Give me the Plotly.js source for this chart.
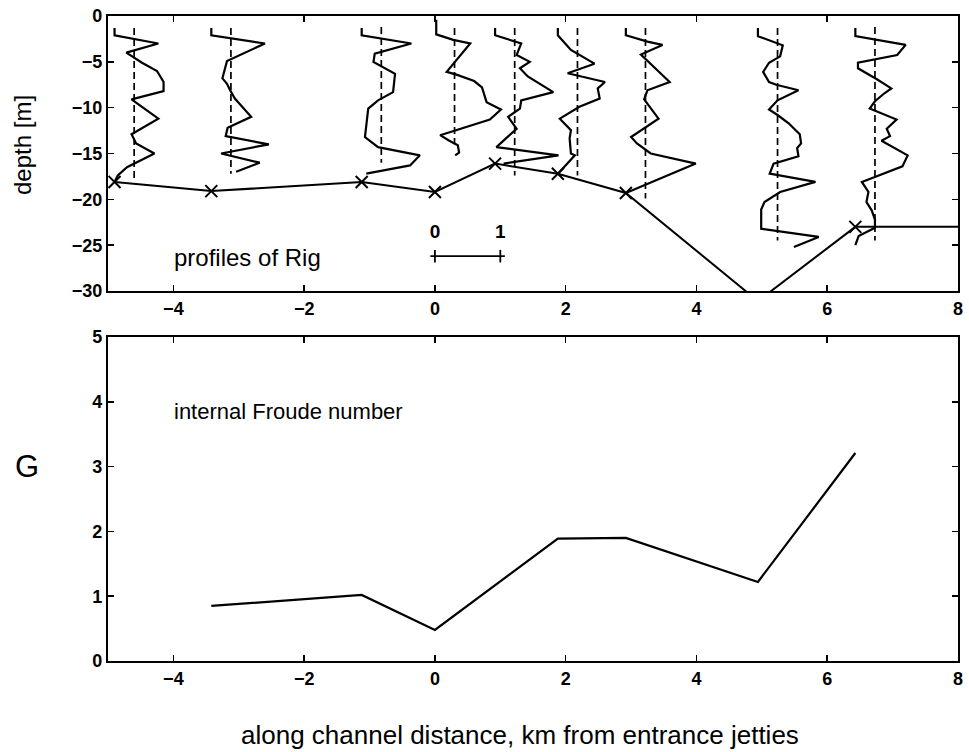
<!DOCTYPE html>
<html>
<head>
<meta charset="utf-8">
<script src="https://cdn.plot.ly/plotly-3.0.1.min.js"></script>
<style>
  html, body { margin: 0; padding: 0; background: #fff; }
  #chart { width: 969px; height: 752px; }
</style>
</head>
<body>
<div id="chart"></div>
<script>
// ---------- DATA ----------
// Station positions along channel (km) and channel bottom depth (m)
const bottomX = [-4.9, -3.42, -1.12, 0, 0.92, 1.88, 2.92, 4.94, 6.43, 8];
const bottomZ = [-18.1, -19.1, -18.1, -19.2, -16.1, -17.2, -19.3, -31.1, -23.0, -23.0];
const markedStations = 9; // stations carrying an "x" marker (the last point is the channel edge)

// Profile origins (km) – one Rig profile per station
const profileStation = [-4.9, -3.42, -1.12, 0, 0.92, 1.88, 2.92, 4.94, 6.43];

// Rig profiles: depth (m) and Rig value (scale: 1 Rig unit = 1 km on the plot)
const prof1Depth = [-1.3, -2.1, -3.0, -4.0, -5.1, -6.0, -7.2, -8.2, -9.1, -11.2, -12.9, -13.9, -15.0, -16.5, -17.4, -18.1];
const prof1Rig   = [0, 0, 0.67, 0.18, 0.42, 0.65, 0.75, 0.75, 0.26, 0.67, 0.26, 0.33, 0.61, 0.19, 0.05, 0];
const prof2Depth = [-1.3, -2.1, -3.0, -4.9, -6.8, -7.4, -8.0, -9.0, -11.0, -12.2, -13.1, -14.0, -15.0, -16.0, -17.0];
const prof2Rig   = [0, 0, 0.82, 0.24, 0.17, 0.24, 0.28, 0.36, 0.61, 0.25, 0.22, 0.88, 0.15, 0.74, 0.38];
const prof3Depth = [-1.3, -2.1, -3.0, -4.1, -5.0, -5.5, -6.1, -6.3, -8.3, -9.2, -10.1, -11.9, -13.2, -14.3, -15.2, -16.3, -17.2];
const prof3Rig   = [0, 0, 0.76, 0.2, 0.18, 0.3, 0.45, 0.51, 0.48, 0.25, 0.1, 0.07, 0.05, 0.25, 0.89, 0.74, 0.07];
const prof4Depth = [-0.4, -2.0, -2.6, -3.0, -6.1, -6.4, -7.1, -7.8, -9.4, -10.2, -11.3, -13.0, -13.6, -14.1, -14.9, -15.2];
const prof4Rig   = [0.02, 0.02, 0.28, 0.54, 0.18, 0.33, 0.6, 0.72, 0.79, 1.01, 0.84, 0.08, 0.22, 0.35, 0.37, 0.31];
const prof5Depth = [-1.3, -2.1, -3.0, -4.25, -5.0, -5.7, -6.6, -8.3, -9.2, -10.1, -11.0, -12.3, -14.3, -15.2, -16.1];
const prof5Rig   = [0, 0, 0.4, 0.33, 0.53, 0.38, 0.5, 0.89, 0.4, 0.38, 0.2, 0.33, 0.02, 0.97, 0.13];
const prof6Depth = [-1.3, -2.1, -3.7, -5.2, -6.25, -6.8, -7.2, -7.9, -9.0, -9.9, -11.2, -12.45, -13.35, -15.0, -15.2, -16.45, -17.2];
const prof6Rig   = [0, 0, 0.2, 0.56, 0.15, 0.49, 0.72, 0.61, 0.64, 0.33, 0.03, 0.2, 0.18, 0.2, 0.26, 0.1, 0];
const prof7Depth = [-1.3, -2.1, -2.8, -3.15, -4.2, -5.2, -7.2, -8.1, -9.1, -11.2, -13.2, -13.9, -15.0, -16.1, -19.3];
const prof7Rig   = [0, 0, 0.33, 0.56, 0.23, 0.38, 0.67, 0.33, 0.28, 0.5, 0.08, 0.17, 0.38, 1.07, 0];
const prof8Depth = [-1.3, -2.2, -3.2, -4.4, -5.1, -6.1, -7.2, -7.5, -8.1, -9.2, -10.2, -10.8, -11.7, -12.9, -13.9, -14.4, -15.3, -16.1, -17.2, -18.1, -19.2, -20.3, -21.1, -23.2, -24.1, -25.2];
const prof8Rig   = [0, 0, 0.38, 0.34, 0.17, 0.08, 0.17, 0.28, 0.62, 0.3, 0.17, 0.3, 0.47, 0.64, 0.66, 0.6, 0.62, 0.24, 0.18, 0.88, 0.34, 0.1, 0.05, 0.05, 0.93, 0.55];
const prof9Depth = [-1.3, -2.2, -3.15, -4.25, -5.1, -5.7, -6.9, -7.9, -8.4, -9.3, -10.1, -11.3, -12.3, -13.1, -13.6, -15.2, -16.4, -18.1, -19.2, -20.3, -21.2, -22.2, -23.1, -24.0, -25.0];
const prof9Rig   = [0, 0, 0.77, 0.64, 0.04, 0.04, 0.33, 0.55, 0.45, 0.3, 0.22, 0.63, 0.48, 0.53, 0.4, 0.8, 0.72, 0.1, 0.2, 0.17, 0.25, 0.3, 0.3, 0.05, 0];

// Critical Rig reference (dashed lines) and their depth extent
const rigCritical = 0.3;
const critTop    = [-1.3, -1.3, -1.2, -1.3, -1.3, -1.3, -1.3, -1.3, -1.2];
const critBottom = [-18.0, -17.2, -16.0, -14.0, -17.4, -17.4, -19.9, -24.5, -24.5];

// Scale bar for Rig (0 to 1)
const scaleBarValues = [0, 1];
const scaleBarLabels = ['0', '1'];

// Internal Froude number G at stations
const froudeX = [-3.42, -1.12, 0, 1.88, 2.92, 4.94, 6.43];
const froudeG = [0.85, 1.02, 0.48, 1.89, 1.90, 1.22, 3.21];

// Axis ticks
const xTicks = [-4, -2, 0, 2, 4, 6, 8];
const depthTicks = [0, -5, -10, -15, -20, -25, -30];
const gTicks = [0, 1, 2, 3, 4, 5];

// ---------- BUILD ----------
const FONT = 'Liberation Sans, Arial, Helvetica, sans-serif';
const profDepths = [prof1Depth, prof2Depth, prof3Depth, prof4Depth, prof5Depth, prof6Depth, prof7Depth, prof8Depth, prof9Depth];
const profRigs   = [prof1Rig, prof2Rig, prof3Rig, prof4Rig, prof5Rig, prof6Rig, prof7Rig, prof8Rig, prof9Rig];

const traces = [];

// channel bottom line
traces.push({
  x: bottomX, y: bottomZ, xaxis: 'x', yaxis: 'y',
  type: 'scatter', mode: 'lines',
  line: { color: '#000', width: 2 }, hoverinfo: 'skip'
});
// station markers
traces.push({
  x: bottomX.slice(0, markedStations), y: bottomZ.slice(0, markedStations), xaxis: 'x', yaxis: 'y',
  type: 'scatter', mode: 'markers',
  marker: { symbol: 'x-thin', size: 12, color: '#000', line: { color: '#000', width: 2 } },
  hoverinfo: 'skip'
});

// profiles and dashed reference lines
profileStation.forEach((s, i) => {
  traces.push({
    x: profRigs[i].map(r => s + r), y: profDepths[i], xaxis: 'x', yaxis: 'y',
    type: 'scatter', mode: 'lines',
    line: { color: '#000', width: 2.2 }, hoverinfo: 'skip'
  });
  traces.push({
    x: [s + rigCritical, s + rigCritical], y: [critTop[i], critBottom[i]], xaxis: 'x', yaxis: 'y',
    type: 'scatter', mode: 'lines',
    line: { color: '#000', width: 1.7, dash: '7px,4px' }, hoverinfo: 'skip'
  });
});

// scale bar
traces.push({
  x: [scaleBarValues[0] - 0.07, scaleBarValues[1] + 0.07], y: [-26.2, -26.2], xaxis: 'x', yaxis: 'y',
  type: 'scatter', mode: 'lines', line: { color: '#000', width: 1.8 }, hoverinfo: 'skip'
});
traces.push({
  x: scaleBarValues, y: [-26.2, -26.2], xaxis: 'x', yaxis: 'y',
  type: 'scatter', mode: 'markers',
  marker: { symbol: 'line-ns', size: 9, line: { color: '#000', width: 1.8 } },
  hoverinfo: 'skip'
});
traces.push({
  x: scaleBarValues, y: [-23.7, -23.7], xaxis: 'x', yaxis: 'y',
  type: 'scatter', mode: 'text',
  text: scaleBarLabels, textposition: 'middle center',
  textfont: { family: FONT, size: 19, color: '#000', weight: 'bold' }, hoverinfo: 'skip'
});

// Froude number
traces.push({
  x: froudeX, y: froudeG, xaxis: 'x2', yaxis: 'y2',
  type: 'scatter', mode: 'lines',
  line: { color: '#000', width: 2.2 }, hoverinfo: 'skip'
});

const axisCommon = {
  showline: true, linecolor: '#000', linewidth: 2.2, mirror: 'ticks',
  ticks: 'inside', ticklen: 6, tickwidth: 1.6, tickcolor: '#000',
  showgrid: false, zeroline: false,
  tickfont: { family: FONT, size: 18, color: '#000', weight: 'bold' }
};

const layout = {
  width: 969, height: 752,
  margin: { l: 108, r: 11, t: 16, b: 91 },
  paper_bgcolor: '#fff', plot_bgcolor: '#fff',
  showlegend: false,
  xaxis: Object.assign({}, axisCommon, { domain: [0, 1], range: [-5, 8], anchor: 'y', tickvals: xTicks }),
  yaxis: Object.assign({}, axisCommon, { domain: [0.5736, 1], range: [-30, 0], anchor: 'x', tickvals: depthTicks }),
  xaxis2: Object.assign({}, axisCommon, { domain: [0, 1], range: [-5, 8], anchor: 'y2', tickvals: xTicks }),
  yaxis2: Object.assign({}, axisCommon, { domain: [0, 0.5023], range: [0, 5], anchor: 'x2', tickvals: gTicks }),
  annotations: [
    { text: 'depth [m]', xref: 'paper', yref: 'paper', x: -0.1, y: 0.80, textangle: -90,
      xanchor: 'center', yanchor: 'middle',
      showarrow: false, font: { family: FONT, size: 24, color: '#000' } },
    { text: 'G', xref: 'paper', yref: 'paper', x: -0.0948, y: 0.301,
      xanchor: 'center', yanchor: 'middle',
      showarrow: false, font: { family: FONT, size: 31, color: '#000' } },
    { text: 'along channel distance, km from entrance jetties', xref: 'paper', yref: 'paper',
      x: 0.485, y: -0.115, xanchor: 'center', yanchor: 'middle',
      showarrow: false, font: { family: FONT, size: 26, color: '#000' } },
    { text: 'profiles of Rig', xref: 'x', yref: 'y', x: -4.02, y: -26.3, xanchor: 'left', yanchor: 'middle',
      showarrow: false, font: { family: FONT, size: 24, color: '#000' } },
    { text: 'internal Froude number', xref: 'x2', yref: 'y2', x: -4.02, y: 3.85, xanchor: 'left', yanchor: 'middle',
      showarrow: false, font: { family: FONT, size: 22, color: '#000' } }
  ]
};

Plotly.newPlot('chart', traces, layout, { staticPlot: true, displayModeBar: false });
</script>
</body>
</html>
